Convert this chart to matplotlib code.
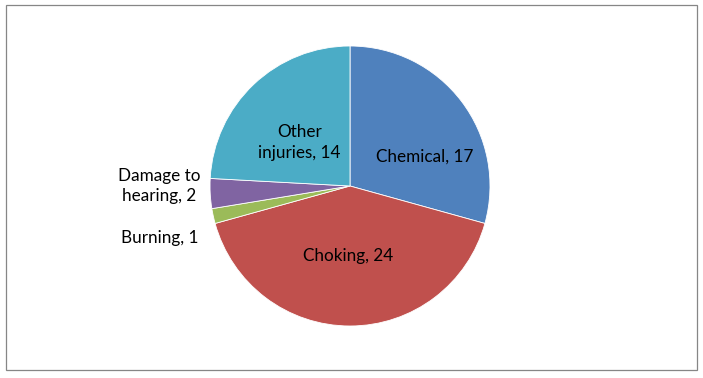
import matplotlib
matplotlib.use('Agg')
import matplotlib.pyplot as plt
from matplotlib.patches import Rectangle

plt.rcParams['font.family'] = ['Lato', 'DejaVu Sans']

categories = ['Chemical', 'Choking', 'Burning', 'Damage to\nhearing', 'Other\ninjuries']
values = [17, 24, 1, 2, 14]
colors = ['#4F81BD', '#C0504D', '#9BBB59', '#8064A2', '#4BACC6']

# label positions (data units, pie radius = 1)
label_pos = [(0.53, 0.21), (-0.01, -0.50), (-1.36, -0.37), (-1.36, 0.0), (-0.36, 0.31)]

fig = plt.figure(figsize=(7.03, 3.78), dpi=100)
fig.patch.set_facecolor('white')
fig.patches.append(Rectangle((6 / 703, 1 - 370 / 378), 691 / 703, 365 / 378,
                             transform=fig.transFigure, fill=False,
                             edgecolor='#868686', linewidth=0.9))

ax = fig.add_axes([210 / 703, 1 - 326 / 378, 280 / 703, 280 / 378])
ax.pie(values, colors=colors, startangle=90, counterclock=False,
       wedgeprops=dict(edgecolor='white', linewidth=0.6))
ax.set_xlim(-1, 1)
ax.set_ylim(-1, 1)
ax.set_aspect('equal')

for name, v, (x, y) in zip(categories, values, label_pos):
    ax.text(x, y, f'{name}, {v}', ha='center', va='center', fontsize=12.3,
            color='black', linespacing=1.35, clip_on=False)

fig.savefig('out.png', dpi=100, facecolor='white')
